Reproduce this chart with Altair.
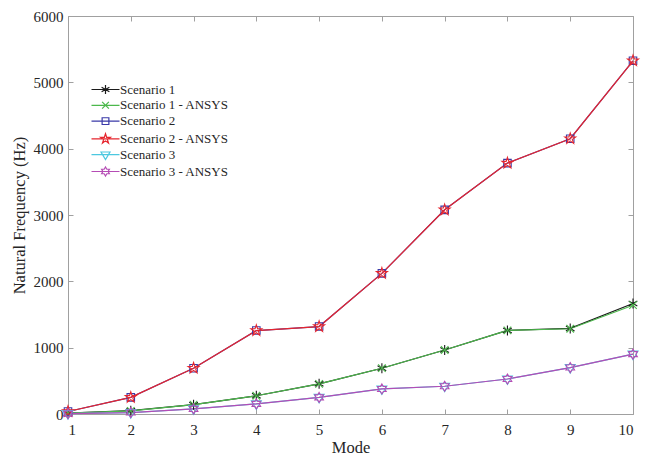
import math
import altair as alt
import pandas as pd

# ---- data ----
modes = [1, 2, 3, 4, 5, 6, 7, 8, 9, 10]
series_names = [
    "Scenario 1",
    "Scenario 1 - ANSYS",
    "Scenario 2",
    "Scenario 2 - ANSYS",
    "Scenario 3",
    "Scenario 3 - ANSYS",
]
scenario1 = [12, 50, 140, 275, 455, 690, 965, 1260, 1290, 1665]
scenario1_ansys = [12, 48, 140, 275, 455, 690, 965, 1260, 1285, 1640]
scenario2 = [38, 250, 690, 1258, 1318, 2120, 3078, 3782, 4150, 5325]
scenario2_ansys = [38, 250, 690, 1258, 1318, 2120, 3078, 3782, 4150, 5325]
scenario3 = [5, 22, 78, 152, 250, 378, 418, 528, 700, 902]
scenario3_ansys = [5, 22, 78, 152, 250, 378, 418, 528, 700, 902]
series_values = [scenario1, scenario1_ansys, scenario2, scenario2_ansys, scenario3, scenario3_ansys]
x_ticks = [1, 2, 3, 4, 5, 6, 7, 8, 9, 10]
y_ticks = [0, 1000, 2000, 3000, 4000, 5000, 6000]

rows = []
for name, vals in zip(series_names, series_values):
    for m, v in zip(modes, vals):
        rows.append({"mode": m, "freq": v, "series": name})
df = pd.DataFrame(rows)

# ---- styles ----
colors = ["#1a1a1a", "#4cb84c", "#3a3aa8", "#e6262e", "#4cc8e0", "#b54cb5"]
marker_kinds = ["asterisk", "x", "square", "pentagram", "tridown", "hexagram"]
FONT = "Liberation Serif"
GRAY = "#a0a0a0"
TXT = "#262626"


def f(v):
    return f"{v:.3f}"


def poly(pts, s):
    return "M" + "L".join(f"{f(x * s)},{f(y * s)}" for x, y in pts) + "Z"


def segs(lst, s):
    return "".join(f"M{f(a[0]*s)},{f(a[1]*s)}L{f(b[0]*s)},{f(b[1]*s)}" for a, b in lst)


def star_pts(n, r_in):
    pts = []
    for i in range(2 * n):
        r = 1.0 if i % 2 == 0 else r_in
        a = -math.pi / 2 + i * math.pi / n
        pts.append((r * math.cos(a), r * math.sin(a)))
    return pts


def marker_path(kind, s):
    if kind == "asterisk":
        return segs([((0, -1), (0, 1)), ((-0.866, -0.5), (0.866, 0.5)), ((-0.866, 0.5), (0.866, -0.5))], s)
    if kind == "x":
        return segs([((-0.75, -0.75), (0.75, 0.75)), ((-0.75, 0.75), (0.75, -0.75))], s)
    if kind == "square":
        return poly([(-0.75, -0.75), (0.75, -0.75), (0.75, 0.75), (-0.75, 0.75)], s)
    if kind == "pentagram":
        return poly(star_pts(5, 0.382), s * 1.15)
    if kind == "tridown":
        return poly([(-1.0, -0.6), (1.0, -0.6), (0.0, 1.1)], s)
    return poly(star_pts(6, 0.577), s)


data_shapes = [marker_path(k, 1.0) for k in marker_kinds]
legend_shapes = ["M-2.8,0L2.8,0" + marker_path(k, 0.9) for k in marker_kinds]

x_scale = alt.Scale(domain=[1, 10], nice=False, zero=False)
y_scale = alt.Scale(domain=[0, 6000], nice=False)

color_scale = alt.Scale(domain=series_names, range=colors)

axis_common = dict(
    domain=False, grid=False, tickColor=GRAY, tickSize=5, tickWidth=1, offset=-5,
    labelFont=FONT, labelFontSize=15, labelColor=TXT,
    titleFont=FONT, titleFontSize=16.5, titleColor=TXT, titleFontWeight="normal",
)

base = alt.Chart(df)

lines = base.mark_line(strokeWidth=1.2).encode(
    x=alt.X("mode:Q", scale=x_scale,
            axis=alt.Axis(orient="bottom", values=x_ticks, title="Mode", labelPadding=8,
                          titlePadding=2, **axis_common)),
    y=alt.Y("freq:Q", scale=y_scale,
            axis=alt.Axis(orient="left", values=y_ticks, format="d", title="Natural Frequency (Hz)",
                          labelPadding=5, titlePadding=6, **axis_common)),
    color=alt.Color("series:N", scale=color_scale, legend=None),
    order=alt.Order("mode:Q"),
)

points = base.mark_point(filled=False, size=100, strokeWidth=1.1, opacity=1).encode(
    x=alt.X("mode:Q", scale=x_scale,
            axis=alt.Axis(orient="top", values=x_ticks, title=None, labels=False, **axis_common)),
    y=alt.Y("freq:Q", scale=y_scale,
            axis=alt.Axis(orient="right", values=y_ticks, title=None, labels=False, **axis_common)),
    color=alt.Color("series:N", scale=alt.Scale(domain=series_names, range=colors), legend=None),
    shape=alt.Shape("series:N", scale=alt.Scale(domain=series_names, range=data_shapes), legend=None),
)

legend_layer = base.mark_point(filled=False, opacity=1, strokeWidth=1.2).transform_filter(
    "datum.mode < 0"
).encode(
    x=alt.X("mode:Q", scale=x_scale, axis=None),
    y=alt.Y("freq:Q", scale=y_scale, axis=None),
    color=alt.Color("series:N", scale=alt.Scale(domain=series_names, range=colors),
                    legend=alt.Legend(title=None, orient="none", legendX=31, legendY=67)),
    shape=alt.Shape("series:N", scale=alt.Scale(domain=series_names, range=legend_shapes),
                    legend=alt.Legend(title=None, orient="none", legendX=31, legendY=67)),
)

chart = alt.layer(lines, points, legend_layer).resolve_scale(
    color="independent", shape="independent"
).resolve_axis(
    x="independent", y="independent"
).properties(
    width=565, height=398,
    autosize=alt.AutoSizeParams(type="none"),
    padding={"left": 68, "top": 16, "right": 16, "bottom": 43},
    background="white",
).configure_view(
    stroke=GRAY, strokeWidth=1
).configure_legend(
    labelFont=FONT, labelFontSize=13, labelColor=TXT, symbolSize=100,
    symbolStrokeWidth=1.2, labelOffset=8, padding=0, rowPadding=1.8, labelLimit=300,
)

chart.save("out.html", embed_options={"renderer": "svg", "actions": False})
